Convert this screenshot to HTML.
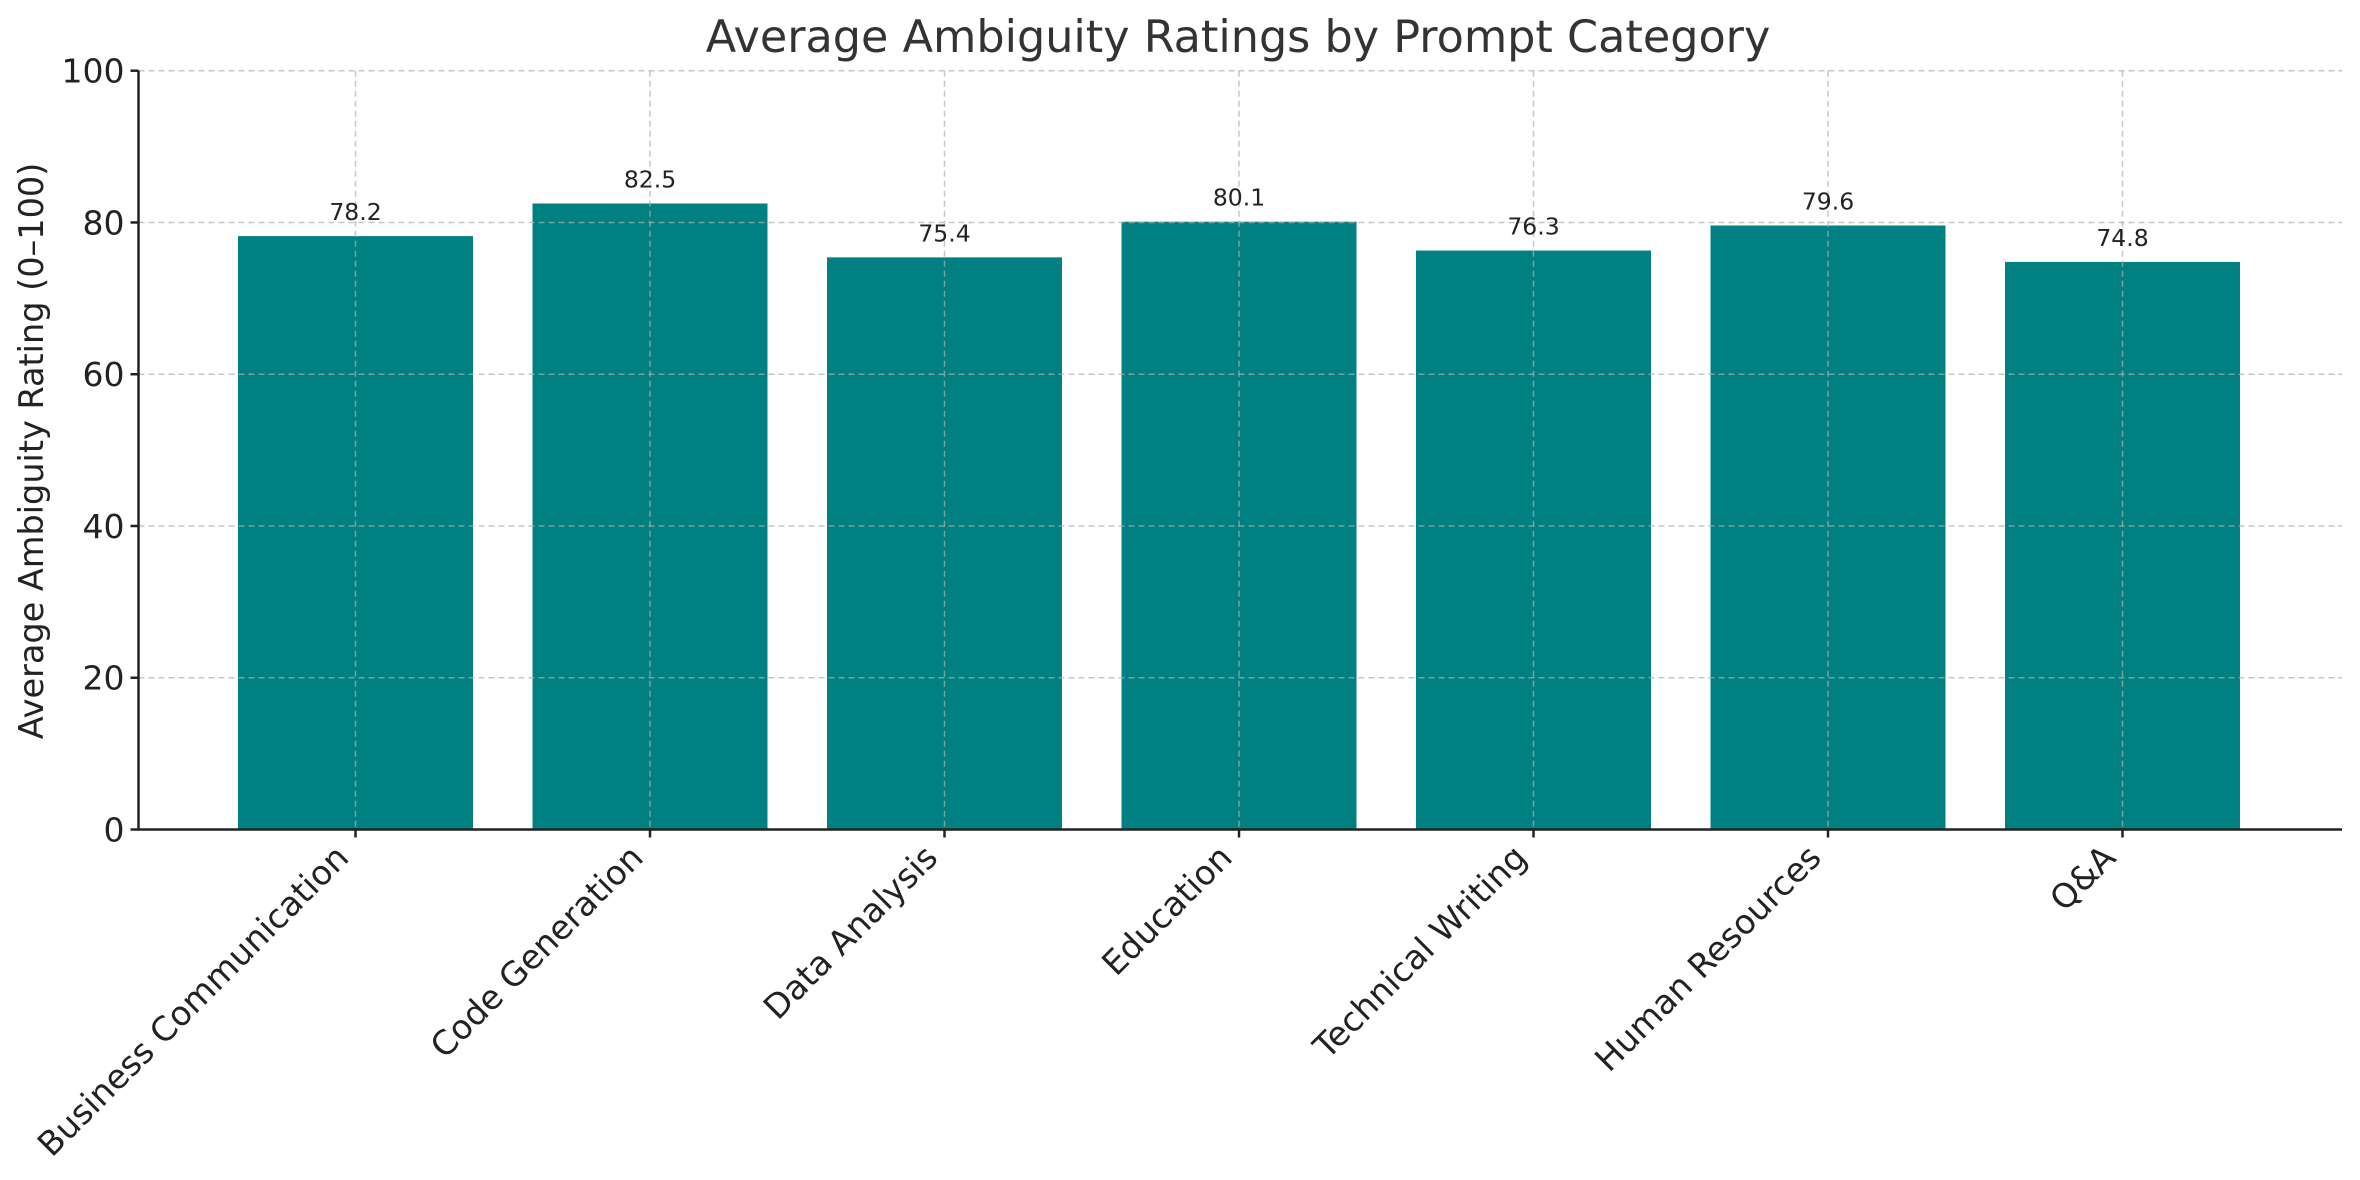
<!DOCTYPE html>
<html><head><meta charset="utf-8"><style>
html,body{margin:0;padding:0;background:#fff;}
svg{display:block;font-family:"DejaVu Sans","Liberation Sans",sans-serif;}
</style></head><body>
<svg id="chart" width="2360" height="1180"></svg>
<script>
const categories=["Business Communication","Code Generation","Data Analysis","Education","Technical Writing","Human Resources","Q&A"];
const values=[78.2,82.5,75.4,80.1,76.3,79.6,74.8];
const yTicks=[0,20,40,60,80,100];
const L=138.5,R=2342,T=70.7,B=829.5;
const NS="http://www.w3.org/2000/svg";
const svg=document.getElementById('chart');
const x0=355.5, bw=235, sp=294.5;
function xc(i){return x0+i*sp;}
function y(v){return B-(v/100)*(B-T);}
function mk(tag,attrs,parent){const e=document.createElementNS(NS,tag);for(const k in attrs)e.setAttribute(k,attrs[k]);(parent||svg).appendChild(e);return e;}
values.forEach((v,i)=>{
 const r=mk('rect',{x:xc(i)-bw/2,y:y(v),width:bw,height:B-y(v),fill:'#008080'});
 
 
});
yTicks.forEach(t=>{
 const g=mk('line',{x1:L,x2:R,y1:y(t),y2:y(t),stroke:'#b0b0b0','stroke-width':1.5,'stroke-dasharray':'6,4',opacity:0.7});
 
 
});
categories.forEach((c,i)=>{
 const g=mk('line',{x1:xc(i),x2:xc(i),y1:T,y2:B,stroke:'#b0b0b0','stroke-width':1.5,'stroke-dasharray':'6,4',opacity:0.7});
 
 
});
values.forEach((v,i)=>{
 const t=mk('text',{x:xc(i),y:y(v)-16,'text-anchor':'middle','font-size':23.5,fill:'#222'});
 t.textContent=v.toFixed(1);
 
 
});
const ax=mk('line',{x1:L,x2:L,y1:T,y2:B+1,stroke:'#222','stroke-width':2.5});


const bx=mk('line',{x1:L-1,x2:R,y1:B,y2:B,stroke:'#222','stroke-width':2.5});


yTicks.forEach(t=>{
 mk('line',{x1:L-8,x2:L,y1:y(t),y2:y(t),stroke:'#222','stroke-width':2.5});
 const tx=mk('text',{x:L-14,y:y(t)+12,'text-anchor':'end','font-size':33,fill:'#222'});
 tx.textContent=t;
 
 
});
categories.forEach((c,i)=>{
 mk('line',{x1:xc(i),x2:xc(i),y1:B,y2:B+8,stroke:'#222','stroke-width':2.5});
 const ax_=xc(i)-5, ay_=B+30;
 const tx=mk('text',{x:ax_,y:ay_,'text-anchor':'end','font-size':33.5,fill:'#222',transform:`rotate(-45 ${ax_} ${ay_})`});
 tx.textContent=c;
 
 
});
const yl=mk('text',{x:43,y:451,'text-anchor':'middle','font-size':33.5,fill:'#222',transform:`rotate(-90 43 451)`});
yl.textContent='Average Ambiguity Rating (0–100)';


const ti=mk('text',{x:1238,y:52,'text-anchor':'middle','font-size':44.5,fill:'#333'});
ti.textContent='Average Ambiguity Ratings by Prompt Category';


</script>
</body></html>
